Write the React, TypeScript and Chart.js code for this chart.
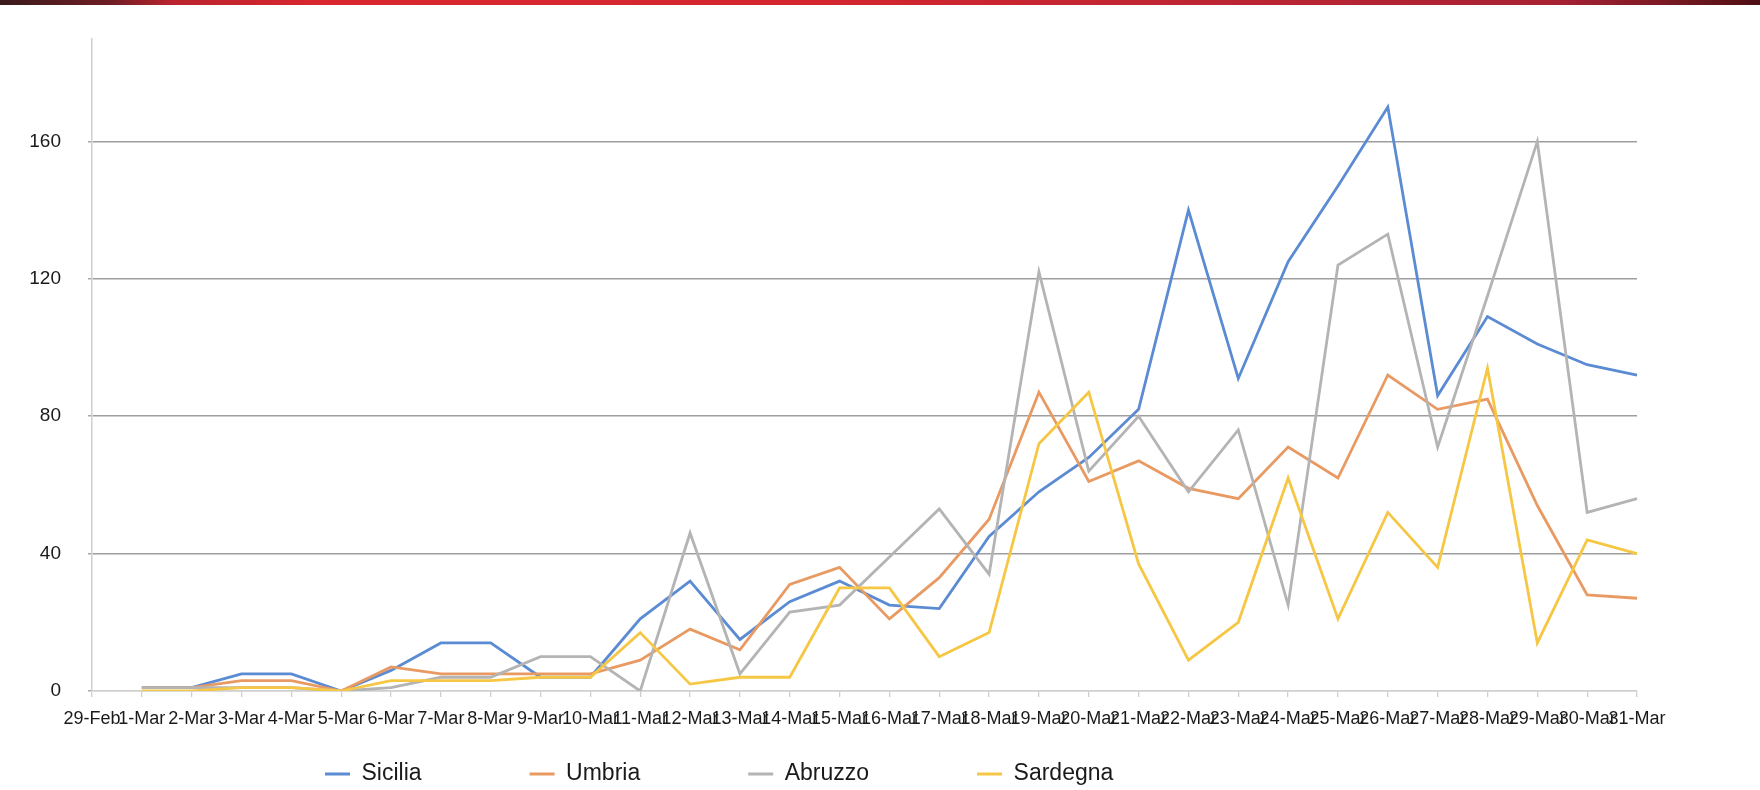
import React, { useEffect, useRef } from 'react';
import { Chart, registerables } from 'chart.js';

Chart.register(...registerables);

const categories = [
  '29-Feb', '1-Mar', '2-Mar', '3-Mar', '4-Mar', '5-Mar', '6-Mar', '7-Mar', '8-Mar', '9-Mar', '10-Mar',
  '11-Mar', '12-Mar', '13-Mar', '14-Mar', '15-Mar', '16-Mar', '17-Mar', '18-Mar', '19-Mar', '20-Mar',
  '21-Mar', '22-Mar', '23-Mar', '24-Mar', '25-Mar', '26-Mar', '27-Mar', '28-Mar', '29-Mar', '30-Mar', '31-Mar',
];

const sicilia = [null, 1, 1, 5, 5, 0, 6, 14, 14, 4, 4, 21, 32, 15, 26, 32, 25, 24, 45, 58, 68, 82, 140, 91, 125, 147, 170, 86, 109, 101, 95, 92];
const umbria = [null, 1, 1, 3, 3, 0, 7, 5, 5, 5, 5, 9, 18, 12, 31, 36, 21, 33, 50, 87, 61, 67, 59, 56, 71, 62, 92, 82, 85, 54, 28, 27];
const abruzzo = [null, 1, 1, 1, 1, 0, 1, 4, 4, 10, 10, 0, 46, 5, 23, 25, 39, 53, 34, 122, 64, 80, 58, 76, 25, 124, 133, 71, 115, 160, 52, 56];
const sardegna = [null, 0, 0, 1, 1, 0, 3, 3, 3, 4, 4, 17, 2, 4, 4, 30, 30, 10, 17, 72, 87, 37, 9, 20, 62, 21, 52, 36, 94, 14, 44, 40];

const seriesNames = ['Sicilia', 'Umbria', 'Abruzzo', 'Sardegna'];
const seriesColors = ['#5b8bd2', '#e99a62', '#b4b4b4', '#f6c744'];

const yTickStep = 40;
const yMax = 190;

const FONT = 'Liberation Sans, Arial, Helvetica, sans-serif';

const legendPlacement = {
  id: 'legendPlacement',
  afterLayout(chart: any) {
    const lg = chart.legend;
    if (!lg) return;
    const pad = lg.options.labels.padding;
    lg.left = 325 - pad;
    lg.right = 1760;
    lg.top = 774 - pad - 11.5;
    lg.bottom = 790;
  },
};

export default function App() {
  const ref = useRef<HTMLCanvasElement | null>(null);

  useEffect(() => {
    document.body.style.margin = '0';
    const allData = [sicilia, umbria, abruzzo, sardegna];
    const chart = new Chart(ref.current as HTMLCanvasElement, {
      type: 'line',
      data: {
        labels: categories,
        datasets: allData.map((d, i) => ({
          label: seriesNames[i],
          data: d,
          borderColor: seriesColors[i],
          backgroundColor: seriesColors[i],
          borderWidth: 2.8,
          pointRadius: 0,
          pointHoverRadius: 0,
          tension: 0,
          fill: false,
          order: 4 - i,
        })),
      },
      options: {
        animation: false,
        responsive: false,
        layout: { padding: { top: 25, right: 123, left: 0, bottom: 0 } },
        plugins: {
          tooltip: { enabled: false },
          legend: {
            position: 'bottom',
            align: 'start',
            reverse: true,
            maxHeight: 30,
            labels: {
              usePointStyle: true,
              pointStyle: 'line',
              pointStyleWidth: 25,
              boxHeight: 23,
              padding: 108,
              color: '#1a1a1a',
              font: { family: FONT, size: 23 },
            },
          },
        },
        scales: {
          x: {
            offset: false,
            grid: { drawOnChartArea: false, tickLength: 6, color: '#cfcfcf', lineWidth: 1.3 },
            border: { color: '#cfcfcf', width: 1.5 },
            ticks: {
              autoSkip: false,
              maxRotation: 0,
              minRotation: 0,
              padding: 11,
              color: '#1a1a1a',
              font: { family: FONT, size: 18 },
            },
            afterFit: (s: any) => {
              s.height = 69;
            },
          },
          y: {
            min: 0,
            max: yMax,
            ticks: {
              stepSize: yTickStep,
              padding: 27,
              color: '#1a1a1a',
              font: { family: FONT, size: 19 },
            },
            afterBuildTicks: (s: any) => {
              s.ticks = s.ticks.filter((t: any) => t.value % yTickStep === 0);
            },
            grid: {
              color: (ctx: any) => (ctx.tick && ctx.tick.value === 0 ? '#cfcfcf' : '#9e9e9e'),
              lineWidth: 1.5,
              tickLength: 4,
              tickColor: '#a8a8a8',
            },
            border: { color: '#cfcfcf', width: 1.5 },
            afterFit: (s: any) => {
              s.width = 92;
            },
          },
        },
      },
      plugins: [legendPlacement],
    } as any);
    return () => chart.destroy();
  }, []);

  return (
    <div style={{ position: 'absolute', left: 0, top: 0, width: 1760, height: 790, background: '#fff' }}>
      <canvas ref={ref} width={1760} height={790} style={{ position: 'absolute', left: 0, top: 0 }} />
      <div
        style={{
          position: 'absolute',
          left: 0,
          top: 0,
          width: 1760,
          height: 5,
          background:
            'linear-gradient(to right, #3a1a1c 0px, #6e1d24 110px, #b8242d 170px, #d9262f 320px, #d4262f 800px, #c02532 1150px, #a82234 1550px, #7c1a24 1660px, #4e0f14 1760px)',
        }}
      />
    </div>
  );
}
